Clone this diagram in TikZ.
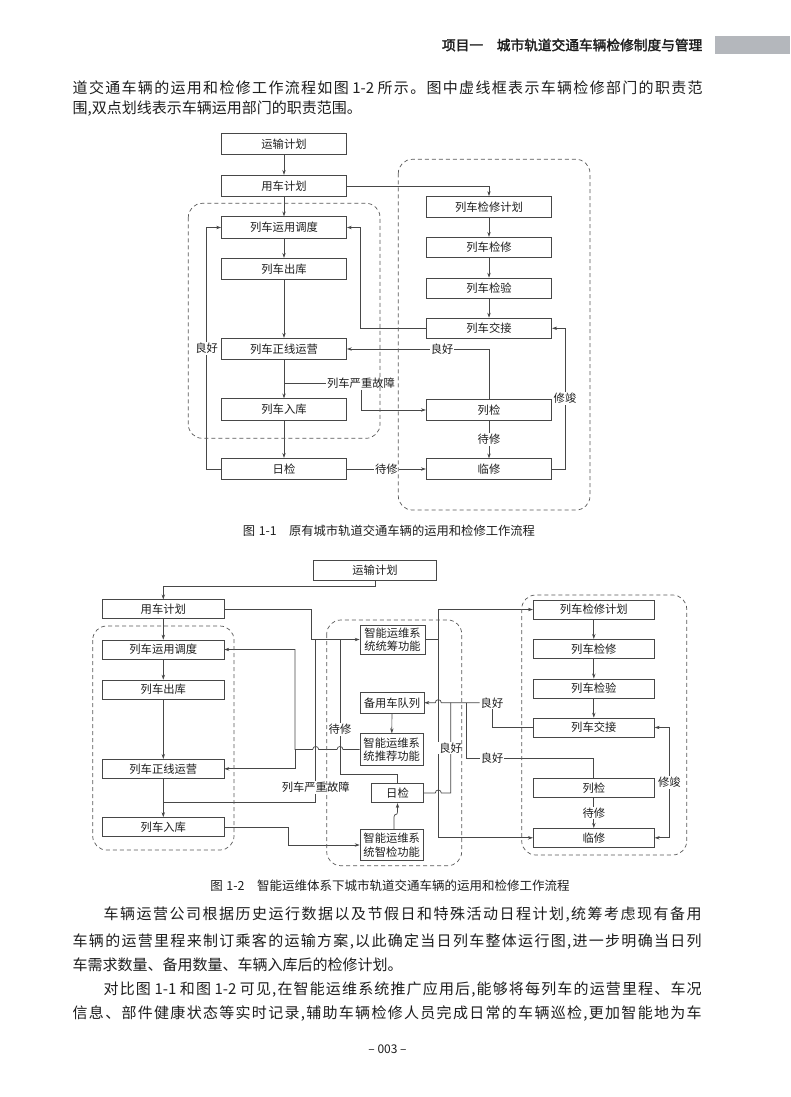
\documentclass[tikz,border=0pt]{standalone}
\usepackage{fontspec}
\setmainfont{Noto Sans CJK SC}
\newfontfamily\hdfont[FakeBold=2]{Noto Sans CJK SC}
\usetikzlibrary{arrows.meta}
\XeTeXinterchartokenstate=1
\newXeTeXintercharclass\cjkclass
\count255="4E00
\loop
  \XeTeXcharclass\count255=\cjkclass
  \advance\count255 by 1
\ifnum\count255<"A000 \repeat
\XeTeXcharclass"3001=\cjkclass
\XeTeXcharclass"3002=\cjkclass
\XeTeXcharclass"002C=\cjkclass
\XeTeXinterchartoks\cjkclass\cjkclass={\hskip0pt plus 1pt\relax}
\XeTeXinterchartoks\cjkclass 0={\hskip0pt plus 1pt\relax}
\XeTeXinterchartoks 0\cjkclass={\hskip0pt plus 1pt\relax}
\definecolor{lc}{HTML}{474747}
\definecolor{tc}{HTML}{1E1E1E}
\definecolor{hg}{HTML}{B4B7BC}
\newcommand{\bodyf}{\fontsize{15}{18}\selectfont}
\newcommand{\figf}{\fontsize{11.3}{13.5}\selectfont}
\newcommand{\nsp}{\hspace{3.5pt}}
\tikzset{
  ln/.style={draw=lc, line width=0.7pt},
  arr/.style={ln, -{Stealth[length=5pt,width=3.4pt]}},
  darr/.style={ln, {Stealth[length=5pt,width=3.4pt]}-{Stealth[length=5pt,width=3.4pt]}},
  bx/.style={draw=lc, line width=0.7pt, inner sep=0pt, font=\figf, text=tc},
  bl/.style={bx, minimum width=125pt, minimum height=21.5pt},
  br/.style={bx, minimum width=125.5pt, minimum height=20.5pt},
  cl/.style={bx, minimum width=121.3pt, minimum height=19pt},
  cr/.style={bx, minimum width=121pt, minimum height=19pt},
  mb/.style={bx, align=center},
  lab/.style={fill=white, inner sep=1pt, font=\figf, text=tc},
  grp/.style={draw=black!65, line width=0.7pt, dash pattern=on 4pt off 3pt, rounded corners=14pt},
  txt/.style={inner sep=0pt, text=tc, font=\bodyf, anchor=west},
}
\begin{document}
\begin{tikzpicture}[x=1pt,y=-1pt]
\useasboundingbox (0,0) rectangle (790,1097);
\fill[white] (0,0) rectangle (790,1097);

% header
\fill[hg] (715,36) rectangle (790,54.5);
\node[anchor=east, inner sep=0pt, text=tc, font=\hdfont\fontsize{13.7}{16}\selectfont] (hd) at (702.5,45) {项目一\hspace{1em}城市轨道交通车辆检修制度与管理};

% top paragraph
\node[txt] (p1) at (72.5,87.3) {\makebox[630pt][s]{道交通车辆的运用和检修工作流程如图\nsp 1-2\nsp 所示。图中虚线框表示车辆检修部门的职责范}};
\node[txt] (p2) at (72.5,108.3) {围,双点划线表示车辆运用部门的职责范围。};

% ================= figure 1 =================
\node[bl] (a1) at (284,144) {运输计划};
\node[bl] (a2) at (284,186) {用车计划};
\node[bl] (a3) at (284,227.5) {列车运用调度};
\node[bl] (a4) at (284,269) {列车出库};
\node[bl] (a5) at (284,349) {列车正线运营};
\node[bl] (a6) at (284,409.5) {列车入库};
\node[bl] (a7) at (284,469) {日检};
\node[br] (b1) at (489,206.7) {列车检修计划};
\node[br] (b2) at (489,247.5) {列车检修};
\node[br] (b3) at (489,288.3) {列车检验};
\node[br] (b4) at (489,328.3) {列车交接};
\node[br] (b5) at (489,410) {列检};
\node[br] (b6) at (489,469) {临修};

\draw[arr] (a1) -- (a2);
\draw[arr] (a2) -- (a3);
\draw[arr] (a3) -- (a4);
\draw[arr] (a4) -- (a5);
\draw[arr] (a5) -- (a6);
\draw[arr] (a6) -- (a7);
\draw[arr] (b1) -- (b2);
\draw[arr] (b2) -- (b3);
\draw[arr] (b3) -- (b4);
\draw[arr] (a2.east) -| (b1.north);
\draw[arr] (b4.west) -- (360,328.3) -- (360,227.5) -- (a3.east);
\draw[arr] (a7.west) -- (206.7,469) -- node[lab]{良好} (206.7,227.5) -- (a3.west);
\draw[arr] (b5.north) -- (489,349) -- node[lab,pos=0.33]{良好} (a5.east);
\coordinate (j1) at (284,383.3);
\node[lab] (f1) at (361,383.3) {列车严重故障};
\draw[ln] (j1) -- (f1.west);
\draw[arr] (f1.south) |- (b5.west);
\draw[arr] (a7.east) -- node[lab]{待修} (b6.west);
\draw[arr] (b5) -- node[lab]{待修} (b6);
\draw[arr] (b6.east) -- (565,469) -- node[lab]{修竣} (565,328.3) -- (b4.east);

\draw[grp] (188.3,203.3) rectangle (380,438.3);
\draw[grp] (398.3,159.3) rectangle (590,510);

\node[text=tc, font=\fontsize{12.3}{14}\selectfont] (cap1) at (389,531) {图\nsp 1-1\hspace{1em}原有城市轨道交通车辆的运用和检修工作流程};

% ================= figure 2 =================
\node[bx, minimum width=123.5pt, minimum height=20pt] (c1) at (375,570) {运输计划};
\node[cl] (c2) at (163.3,609.3) {用车计划};
\node[cl] (c3) at (163.3,649.5) {列车运用调度};
\node[cl] (c4) at (163.3,689.5) {列车出库};
\node[cl] (c5) at (163.3,768.8) {列车正线运营};
\node[cl] (c6) at (163.3,827) {列车入库};

\node[mb, minimum width=65pt, minimum height=29pt] (m1) at (392.5,639.5) {智能运维系\\统统筹功能};
\node[mb, minimum width=64pt, minimum height=20.5pt] (m2) at (392,702.7) {备用车队列};
\node[mb, minimum width=63.3pt, minimum height=31.7pt] (m3) at (391.7,749.5) {智能运维系\\统推荐功能};
\node[mb, minimum width=51.6pt, minimum height=19.4pt] (m4) at (397.5,793) {日检};
\node[mb, minimum width=63.3pt, minimum height=31.4pt] (m5) at (391.7,845) {智能运维系\\统智检功能};

\node[cr] (r1) at (593.8,609.5) {列车检修计划};
\node[cr] (r2) at (593.8,648.8) {列车检修};
\node[cr] (r3) at (593.8,688.4) {列车检验};
\node[cr] (r4) at (593.8,727.5) {列车交接};
\node[cr] (r5) at (593.8,787.8) {列检};
\node[cr] (r6) at (593.8,837.8) {临修};

% left column
\draw[arr] (c1.south) -- (375,586.7) -| (c2.north);
\draw[arr] (c2) -- (c3);
\draw[arr] (c3) -- (c4);
\draw[arr] (c4) -- (c5);
\draw[arr] (c5) -- (c6);
% right column
\draw[arr] (r1) -- (r2);
\draw[arr] (r2) -- (r3);
\draw[arr] (r3) -- (r4);
\draw[arr] (r5) -- node[lab]{待修} (r6);
\draw[darr] (r4.east) -- (669.3,727.5) -- node[lab]{修竣} (669.3,837.8) -- (r6.east);

% into 统筹功能
\draw[arr] (c2.east) -- (311.7,609.3) |- (m1.west);
\coordinate (j2) at (163.3,802.7);
\draw[ln] (j2) -- (315.7,802.7) -- node[lab,pos=0.092]{列车严重故障} (315.7,639.5);
\draw[ln] (m4.north) -- (397.5,774) -- (340,774) -- node[lab,pos=0.33]{待修} (340,639.5);

% 推荐功能 outputs
\coordinate (j3) at (295,749.5);
\draw[arr] (m3.west) -- (343,749.5) .. controls (343,745.5) and (337,745.5) .. (337,749.5)
  -- (318.7,749.5) .. controls (318.7,745.5) and (312.7,745.5) .. (312.7,749.5)
  -- (j3) |- (c3.east);
\draw[arr] (j3) |- (c5.east);

% 入库 -> 智检
\draw[arr] (c6.east) -- (288.3,827) |- (m5.west);
% 智检 -> 日检
\draw[arr] ([xshift=2.3pt]m5.north) -- (394,817) .. controls (394,813) and (397.5,816) .. (397.5,812) -- (m4.south);
\draw[arr] (m2) -- (m3);

% 统筹功能 outputs
\coordinate (j4) at (438.3,639.5);
\draw[arr] (m1.east) -- (j4) |- (r1.west);
\draw[arr] (j4) |- (r6.west);

% good -> 备用车队列
\node[lab] (g1) at (492,702.7) {良好};
\draw[arr] (g1.west) -- (441.3,702.7) .. controls (441.3,698.7) and (435.3,698.7) .. (435.3,702.7) -- (m2.east);
\draw[ln] (r4.west) -| (g1.south);
\draw[ln] (m4.east) -- (435.3,793) .. controls (435.3,789) and (441.3,789) .. (441.3,793) -- (450.7,793) -- node[lab]{良好} (450.7,702.7);
\draw[ln] (r5.north) -- (593.8,758.3) -- node[lab,pos=0.8]{良好} (466.7,758.3) -- (466.7,702.7);

\draw[grp] (92.7,626) rectangle (234,850);
\draw[grp] (326.7,620) rectangle (461.7,865.7);
\draw[grp] (521.7,595) rectangle (686.7,855);

\node[text=tc, font=\fontsize{12.5}{14}\selectfont] (cap2) at (390,886) {图\nsp 1-2\hspace{1em}智能运维体系下城市轨道交通车辆的运用和检修工作流程};

% body text
\node[txt] (t1) at (103.5,915) {\makebox[598pt][s]{车辆运营公司根据历史运行数据以及节假日和特殊活动日程计划,统筹考虑现有备用}};
\node[txt] (t2) at (72.5,941.7) {\makebox[629pt][s]{车辆的运营里程来制订乘客的运输方案,以此确定当日列车整体运行图,进一步明确当日列}};
\node[txt] (t3) at (72.5,965) {车需求数量、备用数量、车辆入库后的检修计划。};
\node[txt] (t4) at (103.5,989.3) {\makebox[598pt][s]{对比图\nsp 1-1\nsp 和图\nsp 1-2\nsp 可见,在智能运维系统推广应用后,能够将每列车的运营里程、车况}};
\node[txt] (t5) at (72.5,1014) {\makebox[629pt][s]{信息、部件健康状态等实时记录,辅助车辆检修人员完成日常的车辆巡检,更加智能地为车}};

\node[text=tc, font=\fontsize{12}{14}\selectfont] (pg) at (387.5,1049) {– 003 –};
\end{tikzpicture}
\end{document}
